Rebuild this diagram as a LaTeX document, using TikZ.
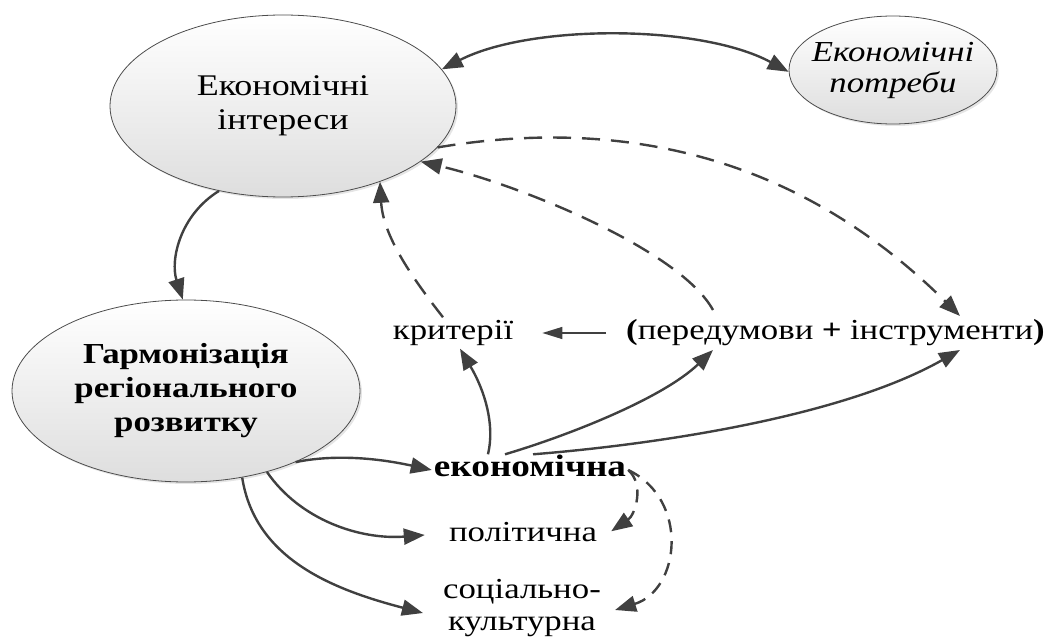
\documentclass[tikz,border=0pt]{standalone}
\usepackage{fontspec}
\setmainfont{Liberation Serif}[FakeStretch=1.2]
\usetikzlibrary{arrows.meta,shapes.geometric,shadows,positioning}

\begin{document}
\begin{tikzpicture}[x=1pt,y=-1pt,
    >={Triangle[length=21pt,width=16pt]},
    oval/.style={ellipse,draw=black!70,line width=0.8pt,top color=white,bottom color=black!13,
      drop shadow={shadow xshift=2pt,shadow yshift=-2pt,opacity=0.25,fill=black!40},
      align=center,inner sep=0pt},
    lbl/.style={font=\fontsize{29}{32}\selectfont,text height=20pt,text depth=7pt,inner sep=2pt},
    con/.style={draw=black!75,line width=2.4pt},
    dsh/.style={con,dash pattern=on 18pt off 11pt},
    dshs/.style={con,dash pattern=on 13pt off 9pt}]
    \useasboundingbox (0,0) rectangle (1061,639);

        \node[oval,minimum width=346pt,minimum height=182pt,font=\fontsize{30}{34}\selectfont] (ei) at (283,106) {Економічні\\інтереси};
        \node[oval,inner sep=-9pt,minimum width=208pt,minimum height=108pt,font=\fontsize{29}{31}\selectfont\itshape] (ep) at (893,70) {Економічні\\потреби};
        \node[oval,minimum width=348pt,minimum height=182pt,font=\fontsize{29}{34}\selectfont\bfseries] (hr) at (186,391) {Гармонізація\\регіонального\\розвитку};

        \node[lbl] (krit) at (453,333) {критерії};
        \node[lbl,anchor=west] (per) at (624,333) {\textbf{(}передумови};
        \node[lbl,font=\fontsize{29}{32}\selectfont\bfseries,right=4pt of per] (plus) {+};
        \node[lbl,right=4pt of plus] (instr) {інструменти\textbf{)}};
        \node[lbl,font=\fontsize{31}{32}\selectfont\bfseries] (econ) at (530,470) {економічна};
        \node[lbl] (pol) at (523,535) {політична};
        \node[font=\fontsize{29}{32}\selectfont,align=center,inner sep=2pt] (soc) at (522,608) {соціально-\\культурна};

        \draw[con,<->] (ei.13) .. controls (530,24) and (700,24) .. (ep.181);
        \draw[con,->] (ei.233) .. controls (180,215) and (170,260) .. (hr.92);

        \draw[dsh,->] ([xshift=-10pt]krit.north) .. controls (410,275) and (383,235) .. (ei.-38);
        \draw[dsh,->] (713,310) .. controls (680,250) and (520,185) .. (ei.-22);
        \draw[dsh,->] (ei.-15) .. controls (690,105) and (850,207) .. (960,316);
        \draw[draw=black!75,line width=1.4pt,-{Triangle[length=20pt,width=12pt]}] ([xshift=-18pt]per.west) -- ([xshift=27pt]krit.east);

        \draw[con,->] ([xshift=-42pt]econ.north) .. controls (495,425) and (485,391) .. ([xshift=7pt]krit.south);
        \draw[con,->] ([xshift=-25pt]econ.north) .. controls (570,435) and (663,398) .. (713,350);
        \draw[con,->] ([xshift=3pt]econ.north) .. controls (650,445) and (840,418) .. (960,350);

        \draw[con,->] (hr.-33) .. controls (345,452) and (395,462) .. (econ.west);
        \draw[con,->] (hr.-45) .. controls (300,520) and (360,540) .. ([xshift=-22pt]pol.west);
        \draw[con,->] (hr.-57) .. controls (255,560) and (335,590) .. ([xshift=-18pt,yshift=-5pt]soc.west);

        \draw[dshs,->] (econ.east) .. controls (645,485) and (635,515) .. ([xshift=12pt,yshift=-12pt]pol.north east);
        \draw[dshs,->] (econ.east) .. controls (690,500) and (680,590) .. ([xshift=12pt,yshift=-2pt]soc.east);

    \end{tikzpicture}
\end{document}
